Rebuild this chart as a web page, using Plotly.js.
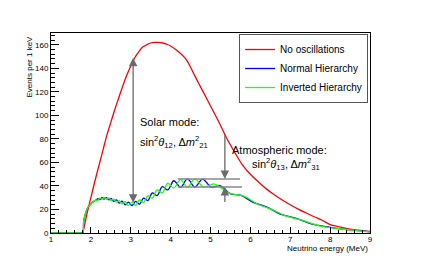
<!DOCTYPE html>
<html>
<head>
<meta charset="utf-8">
<script src="https://cdn.plot.ly/plotly-3.0.1.min.js"></script>
<style>html,body{margin:0;padding:0;background:#fff;}#chart{width:421px;height:273px;}</style>
</head>
<body>
<div id="chart"></div>
<script>
// Unoscillated spectrum
const energyNoOsc = [1.8, 1.85, 1.9, 2.0, 2.1, 2.2, 2.3, 2.4, 2.5, 2.6, 2.7, 2.8, 2.9, 3.0, 3.1, 3.2, 3.3, 3.4, 3.5, 3.6, 3.7, 3.8, 3.9, 4.0, 4.2, 4.4, 4.6, 4.8, 5.0, 5.2, 5.4, 5.6, 5.8, 6.0, 6.2, 6.4, 6.6, 6.8, 7.0, 7.2, 7.4, 7.6, 7.8, 8.0, 8.2, 8.4, 8.6, 8.8, 9.0];
const eventsNoOsc = [0, 8, 16, 30, 44, 57, 70, 83, 94, 105, 115, 125, 134, 142, 149, 154, 158, 160, 161.5, 162, 162, 161.5, 160.5, 159, 154, 147, 134, 121, 108, 95, 81, 69, 58, 50, 43.5, 37.5, 32.5, 28, 24, 20.3, 17, 13.8, 10.8, 7.2, 5.4, 4.0, 2.9, 2.1, 1.4];

// Normal hierarchy
const energyNH = [1.0, 1.78, 1.8, 1.82, 1.86, 1.92, 1.98, 2.05, 2.12, 2.18, 2.23, 2.28, 2.33, 2.39, 2.45, 2.51, 2.57, 2.64, 2.71, 2.78, 2.86, 2.94, 3.03, 3.12, 3.22, 3.32, 3.43, 3.54, 3.66, 3.79, 3.93, 4.08, 4.25, 4.42, 4.61, 4.80, 5.02, 5.25, 5.50, 5.75, 6.07, 6.40, 6.77, 7.15, 7.55, 8.00, 8.50, 9.00];
const eventsNH = [0, 0, 0, 10, 16, 21.5, 24, 26.3, 27.8, 29.1, 28.35, 30.1, 28.75, 30.1, 28.15, 29.4, 26.95, 28.2, 25.4, 27.1, 24.0, 26.2, 23.2, 26.8, 24.55, 29.7, 27.55, 34.0, 31.8, 39.4, 36.6, 44.4, 38.8, 46.0, 39.0, 45.8, 39.0, 40.1, 33.2, 32.2, 26.1, 22.2, 15.8, 12.45, 7.45, 4.85, 2.6, 1.0];

// Inverted hierarchy
const energyIH = [1.0, 1.78, 1.8, 1.82, 1.86, 1.92, 1.98, 2.05, 2.12, 2.18, 2.23, 2.28, 2.33, 2.39, 2.45, 2.51, 2.57, 2.64, 2.71, 2.78, 2.86, 2.94, 3.03, 3.12, 3.22, 3.32, 3.43, 3.54, 3.66, 3.79, 3.93, 4.08, 4.25, 4.42, 4.61, 4.82, 5.10, 5.45, 5.85, 6.20, 6.55, 6.90, 7.30, 7.75, 8.25, 8.75, 9.00];
const eventsIH = [0, 0, 0, 10, 16, 21.5, 24, 26.3, 27.8, 27.9, 29.65, 28.7, 30.25, 28.5, 29.85, 27.6, 28.85, 26.2, 27.6, 24.7, 26.6, 23.4, 26.2, 23.6, 28.05, 25.9, 31.65, 29.6, 36.6, 34.2, 42.3, 38.2, 45.4, 39.0, 46.0, 39.3, 41.6, 34.1, 31.2, 24.2, 19.9, 14.3, 10.9, 5.9, 3.6, 1.8, 1.0];

const seriesNames = ["No oscillations", "Normal Hierarchy", "Inverted Hierarchy"];

// Annotation geometry (data units)
const solarArrowE = 3.06, solarArrowLow = 24.5, solarArrowHigh = 149;
const atmArrowE = 5.36;
const atmUpperArrow = [85, 46];
const atmLowerArrow = [25, 39];
const bandLevels = [46, 39];
const bandStart = [4.18, 4.18];
const bandEnd = [5.74, 5.79];

const font = "Liberation Sans, Arial, Helvetica, sans-serif";
const grey = "#6b6b6b";

const traces = [
  {x: energyNoOsc, y: eventsNoOsc, name: seriesNames[0], mode: "lines",
   line: {color: "#ff0000", width: 1.3, shape: "spline", smoothing: 1}},
  {x: energyNH, y: eventsNH, name: seriesNames[1], mode: "lines",
   line: {color: "#0000ff", width: 1.3, shape: "spline", smoothing: 1}},
  {x: energyIH, y: eventsIH, name: seriesNames[2], mode: "lines",
   line: {color: "#22ff00", width: 1.3, shape: "spline", smoothing: 1}}
];

function arrow(xv, yHead, yTail, both) {
  return {x: xv, y: yHead, ax: xv, ay: yTail, xref: "x", yref: "y", axref: "x", ayref: "y",
    text: "", showarrow: true, arrowhead: 2, arrowsize: 1.3, arrowwidth: 1.3,
    arrowcolor: grey, arrowside: both ? "end+start" : "end", startarrowhead: 2, startarrowsize: 1.3};
}

const shapes = bandLevels.map((lv, i) => ({
  type: "line", xref: "x", yref: "y", x0: bandStart[i], x1: bandEnd[i], y0: lv, y1: lv,
  line: {color: "#8a8a8a", width: 1.5}
}));

const annotations = [
  arrow(solarArrowE, solarArrowHigh, solarArrowLow, true),
  arrow(atmArrowE, atmUpperArrow[1], atmUpperArrow[0], false),
  arrow(atmArrowE, atmLowerArrow[1], atmLowerArrow[0], false),
  {x: 3.18, y: 94, xref: "x", yref: "y", xanchor: "left", yanchor: "middle", showarrow: false,
   text: "Solar mode:", font: {family: font, size: 11, color: "#000"}},
  {x: 3.18, y: 77.5, xref: "x", yref: "y", xanchor: "left", yanchor: "middle", showarrow: false,
   text: "sin<sup>2</sup><i>θ</i><sub>12</sub>, Δ<i>m</i><sup>2</sup><sub>21</sub>", font: {family: font, size: 11, color: "#000"}},
  {x: 5.49, y: 70.5, xref: "x", yref: "y", xanchor: "left", yanchor: "middle", showarrow: false,
   text: "Atmospheric mode:", font: {family: font, size: 11, color: "#000"}},
  {x: 6.89, y: 58.5, xref: "x", yref: "y", xanchor: "center", yanchor: "middle", showarrow: false,
   text: "sin<sup>2</sup><i>θ</i><sub>13</sub>, Δ<i>m</i><sup>2</sup><sub>31</sub>", font: {family: font, size: 11, color: "#000"}},
  {x: -0.0674, y: 1, xref: "paper", yref: "paper", xanchor: "center", yanchor: "top", showarrow: false,
   textangle: -90, text: "Events per 1 keV", font: {family: font, size: 8, color: "#000"}},
  {x: 1.0, y: -0.0775, xref: "paper", yref: "paper", xanchor: "right", yanchor: "middle", showarrow: false,
   text: "Neutrino energy (MeV)", font: {family: font, size: 8, color: "#000"}}
];

const layout = {
  width: 421, height: 273,
  margin: {l: 51, r: 51, t: 33, b: 40, pad: 0},
  paper_bgcolor: "#fff", plot_bgcolor: "#fff",
  font: {family: font, size: 8, color: "#000"},
  showlegend: true,
  legend: {x: 0.994, y: 0.995, xanchor: "right", yanchor: "top",
    bgcolor: "#fff", bordercolor: "#555", borderwidth: 1, itemwidth: 30, tracegroupgap: 0,
    font: {family: font, size: 10, color: "#000"}},
  xaxis: {range: [1, 9], tick0: 1, dtick: 1, ticks: "inside", ticklen: 6, tickwidth: 1, tickcolor: "#000",
    showline: true, linecolor: "#000", linewidth: 1, mirror: true, showgrid: false, zeroline: false,
    ticklabelstandoff: -2,
    tickfont: {family: font, size: 8, color: "#000"},
    minor: {dtick: 0.2, ticks: "inside", ticklen: 3, tickcolor: "#000", showgrid: false}},
  yaxis: {range: [0, 170], tick0: 0, dtick: 20, ticks: "inside", ticklen: 8, tickwidth: 1, tickcolor: "#000",
    showline: true, linecolor: "#000", linewidth: 1, mirror: true, showgrid: false, zeroline: false,
    tickfont: {family: font, size: 8, color: "#000"},
    minor: {dtick: 4, ticks: "inside", ticklen: 4, tickcolor: "#000", showgrid: false}},
  shapes: shapes,
  annotations: annotations
};

Plotly.newPlot("chart", traces, layout, {displayModeBar: false, staticPlot: true});
</script>
</body>
</html>
